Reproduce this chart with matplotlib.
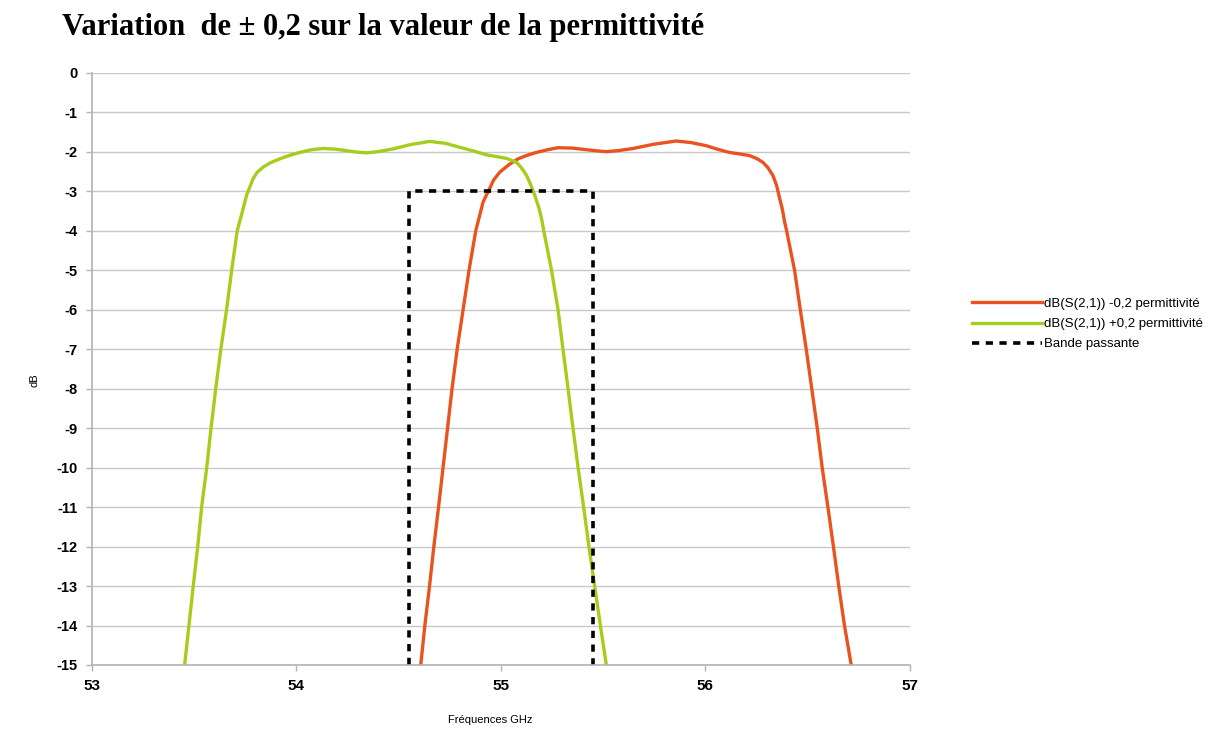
import matplotlib
matplotlib.use("Agg")
import matplotlib.pyplot as plt

# dB(S(2,1)) with permittivity -0.2
freq_minus = [54.609, 54.629, 54.652, 54.673, 54.696, 54.718, 54.740, 54.762,
              54.787, 54.816, 54.845, 54.878, 54.914, 54.946, 54.965, 54.995,
              55.04, 55.085, 55.13, 55.174, 55.23, 55.28, 55.35, 55.418,
              55.47, 55.516, 55.58, 55.646, 55.75, 55.858, 55.93, 56.005,
              56.06, 56.118, 56.17, 56.216, 56.25, 56.281, 56.305, 56.33,
              56.348, 56.363, 56.376, 56.387, 56.397, 56.436, 56.464, 56.493,
              56.520, 56.547, 56.571, 56.599, 56.626, 56.652, 56.680, 56.713]
s21_minus = [-15, -14, -13, -12, -11, -10, -9, -8,
             -7, -6, -5, -4, -3.27, -2.93, -2.72, -2.52,
             -2.33, -2.18, -2.09, -2.02, -1.95, -1.9, -1.91, -1.95,
             -1.98, -2.0, -1.97, -1.92, -1.81, -1.73, -1.77, -1.85,
             -1.94, -2.02, -2.06, -2.1, -2.17, -2.27, -2.4, -2.6,
             -2.85, -3.18, -3.45, -3.77, -4.0, -5, -6, -7,
             -8, -9, -10, -11, -12, -13, -14, -15]

# dB(S(2,1)) with permittivity +0.2
freq_plus = [53.455, 53.476, 53.497, 53.519, 53.538, 53.563, 53.584, 53.607,
             53.632, 53.660, 53.685, 53.712, 53.733, 53.758, 53.79, 53.81,
             53.839, 53.875, 53.921, 53.97, 54.018, 54.075, 54.132, 54.19,
             54.246, 54.295, 54.344, 54.40, 54.474, 54.56, 54.653, 54.73,
             54.80, 54.865, 54.93, 55.028, 55.077, 55.10, 55.126, 55.145,
             55.166, 55.185, 55.199, 55.21, 55.248, 55.280, 55.304, 55.329,
             55.353, 55.378, 55.405, 55.431, 55.459, 55.487, 55.516]
s21_plus = [-15, -14, -13, -12, -11, -10, -9, -8,
            -7, -6, -5, -4, -3.6, -3.1, -2.68, -2.52,
            -2.39, -2.28, -2.18, -2.09, -2.02, -1.95, -1.92, -1.935,
            -1.975, -2.01, -2.03, -2.0, -1.93, -1.82, -1.74, -1.79,
            -1.89, -1.98, -2.08, -2.17, -2.27, -2.4, -2.6, -2.82,
            -3.1, -3.4, -3.68, -4.0, -5, -6, -7, -8,
            -9, -10, -11, -12, -13, -14, -15]

# pass-band template
band_freq = [54.55, 54.55, 55.45, 55.45]
band_db = [-15, -3, -3, -15]

xticks = [53, 54, 55, 56, 57]
yticks = list(range(0, -16, -1))

fig = plt.figure(figsize=(12.11, 7.29), dpi=100)
ax = fig.add_axes([0.0756, 0.0878, 0.6758, 0.8125])

ax.plot(freq_minus, s21_minus, color="#e9531f", lw=2.4,
        label="dB(S(2,1)) -0,2 permittivité")
ax.plot(freq_plus, s21_plus, color="#a6cc1c", lw=2.4,
        label="dB(S(2,1)) +0,2 permittivité")
ax.plot(band_freq, band_db, color="black", lw=2.6, ls=(0, (2, 1.8)),
        label="Bande passante")

ax.set_xlim(53, 57)
ax.set_ylim(-15, 0)
ax.set_xticks(xticks)
ax.set_yticks(yticks)
ax.set_xticklabels([str(t) for t in xticks], fontsize=11, fontweight="bold",
                   family="Liberation Sans")
ax.set_yticklabels([str(t) for t in yticks], fontsize=10.5, fontweight="bold",
                   family="Liberation Sans")
ax.tick_params(length=4, width=1, color="#b3b3b3", pad=6)
ax.grid(axis="y", color="#c8c8c8", lw=1)
ax.set_axisbelow(True)
for s in ("top", "right"):
    ax.spines[s].set_visible(False)
for s in ("left", "bottom"):
    ax.spines[s].set_color("#b3b3b3")
    ax.spines[s].set_linewidth(1.2)

ax.set_xlabel("Fréquences GHz", fontsize=8, family="Liberation Sans")
ax.xaxis.set_label_coords(0.487, -0.085)
ax.set_ylabel("dB", fontsize=8, family="Liberation Sans")
ax.yaxis.set_label_coords(-0.064, 0.48)

fig.legend(loc="center left", bbox_to_anchor=(960 / 1211, 1 - 324 / 729),
           frameon=False, handlelength=5.3, handletextpad=0.15,
           labelspacing=0.6, prop={"family": "Liberation Sans", "size": 9.5})

fig.text(62 / 1211, 1 - 27 / 729, "Variation  de ± 0,2 sur la valeur de la permittivité",
         fontsize=22, fontweight="bold", family="Liberation Serif", va="center")

fig.savefig("out.png", dpi=100)
